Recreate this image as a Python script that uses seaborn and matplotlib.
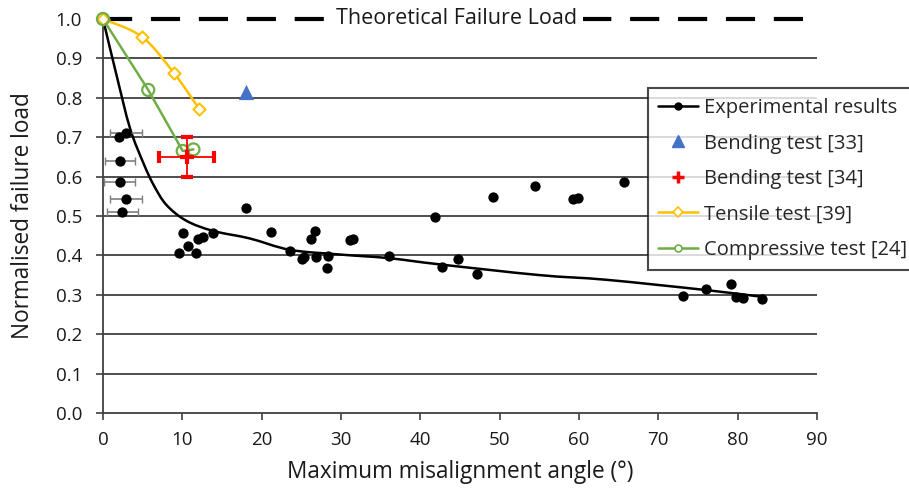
import matplotlib
matplotlib.use("Agg")
import matplotlib.pyplot as plt
from matplotlib.path import Path
from matplotlib.patches import PathPatch
from matplotlib.lines import Line2D
import numpy as np
import pandas as pd
import seaborn as sns

# experimental results (no error bar)
exp_angle = [2.06, 9.6, 10.05, 10.76, 11.7, 12.0, 12.65, 13.9, 18.0, 21.2, 23.6, 25.05,
             25.3, 26.2, 26.7, 26.9, 28.3, 28.2, 31.1, 31.5, 36.1, 41.8, 42.7, 44.7,
             47.1, 49.1, 54.5, 59.2, 59.9, 65.7, 73.05, 76.0, 79.1, 79.8, 80.7, 83.1]
exp_load = [0.700, 0.407, 0.456, 0.424, 0.405, 0.441, 0.446, 0.458, 0.520, 0.460, 0.411, 0.390,
            0.397, 0.441, 0.462, 0.397, 0.398, 0.367, 0.439, 0.441, 0.399, 0.498, 0.371, 0.392,
            0.352, 0.549, 0.577, 0.543, 0.546, 0.586, 0.297, 0.314, 0.327, 0.294, 0.293, 0.290]

# experimental results with horizontal error bars
eb_angle = [2.9, 2.1, 2.1, 2.9, 2.4]
eb_load = [0.711, 0.640, 0.585, 0.542, 0.511]
eb_err = [2.0, 1.9, 1.95, 2.0, 1.95]

# trend line through experimental results
fit_angle = [0, 1.7, 3.4, 5.1, 6.4, 8.0, 10.5, 13.9, 18.5, 23.6, 30.0, 36.0, 42.5, 55.0, 63.5, 76.0, 83.0]
fit_load = [1.0, 0.858, 0.723, 0.634, 0.578, 0.528, 0.488, 0.462, 0.443, 0.414, 0.402, 0.393,
            0.377, 0.350, 0.338, 0.312, 0.295]

# literature
bend33_angle = [18.0]
bend33_load = [0.815]
bend34_angle = [10.55]
bend34_load = [0.65]
bend34_xerr = [3.5]
bend34_yerr = [0.05]
tens_angle = [0, 4.9, 8.9, 12.15]
tens_load = [1.0, 0.955, 0.864, 0.771]
comp_angle = [0, 5.7, 10.05, 11.4]
comp_load = [1.0, 0.82, 0.665, 0.669]

BLACK = "black"
BLUE = "#4472C4"
RED = "#FF0000"
YELLOW = "#FFC000"
GREEN = "#70AD47"
AXIS = "#404040"
TXT = "#1a1a1a"


def smooth_path(xs, ys):
    # excel-like smoothed line (catmull-rom as cubic bezier)
    pts = np.column_stack([xs, ys]).astype(float)
    n = len(pts)
    verts = [pts[0]]
    codes = [Path.MOVETO]
    for i in range(n - 1):
        p0 = pts[max(i - 1, 0)]
        p1 = pts[i]
        p2 = pts[i + 1]
        p3 = pts[min(i + 2, n - 1)]
        c1 = p1 + (p2 - p0) / 6
        c2 = p2 - (p3 - p1) / 6
        verts += [c1, c2, p2]
        codes += [Path.CURVE4] * 3
    return Path(verts, codes)


sns.set_style("white")
plt.rcParams["font.family"] = ["Open Sans", "DejaVu Sans"]

fig = plt.figure(figsize=(9.09, 4.92), dpi=100)
ax = fig.add_axes([0.1133, 0.1606, 0.7855, 0.8008])

ax.set_xlim(0, 90)
ax.set_ylim(0, 1.0)
ax.set_xticks(np.arange(0, 91, 10))
ax.set_yticks(np.arange(0, 1.01, 0.1))
ax.set_yticklabels([f"{v:.1f}" for v in np.arange(0, 1.01, 0.1)])

for yv in np.arange(0.1, 0.95, 0.1):
    ax.axhline(yv, color=AXIS, lw=1.3, zorder=0)

# theoretical failure load
ax.axhline(1.0, color=BLACK, lw=3, ls=(0, (7, 4.5)), zorder=1, clip_on=False)
ax.text(44.6, 1.0, "Theoretical Failure Load", ha="center", va="center", fontsize=15.5,
        color=TXT, bbox=dict(facecolor="white", edgecolor="none", pad=4), zorder=2)

# trend line
ax.add_patch(PathPatch(smooth_path(fit_angle, fit_load), facecolor="none",
                       edgecolor=BLACK, lw=1.8, zorder=3))

# error bars
ax.errorbar(eb_angle, eb_load, xerr=eb_err, fmt="none", ecolor="#7f7f7f",
            elinewidth=1.2, capsize=3, zorder=3)

exp_df = pd.DataFrame({"angle": exp_angle + eb_angle, "load": exp_load + eb_load})
sns.scatterplot(data=exp_df, x="angle", y="load", ax=ax, color=BLACK, s=55,
                edgecolor=BLACK, linewidth=0, zorder=5)

# tensile test
ax.add_patch(PathPatch(smooth_path(tens_angle, tens_load), facecolor="none",
                       edgecolor=YELLOW, lw=1.8, zorder=4, clip_on=False))
sns.scatterplot(x=tens_angle, y=tens_load, ax=ax, marker="D", s=38, facecolor="white",
                edgecolor=YELLOW, linewidth=1.5, zorder=6, clip_on=False)

# compressive test
sns.lineplot(x=comp_angle, y=comp_load, ax=ax, sort=False, color=GREEN, lw=1.8,
             zorder=4, estimator=None)
sns.scatterplot(x=comp_angle, y=comp_load, ax=ax, marker="o", s=75, facecolor="none",
                edgecolor=GREEN, linewidth=1.6, zorder=6, clip_on=False)

# bending tests
sns.scatterplot(x=bend33_angle, y=bend33_load, ax=ax, marker="^", s=120, color=BLUE,
                linewidth=0, zorder=6)
ax.errorbar(bend34_angle, bend34_load, xerr=bend34_xerr, yerr=bend34_yerr, fmt="+",
            color=RED, ms=10, mew=3, elinewidth=1.3, capsize=4, zorder=7)

for side in ["top", "right"]:
    ax.spines[side].set_visible(False)
for side in ["left", "bottom"]:
    ax.spines[side].set_color(AXIS)
    ax.spines[side].set_linewidth(1.3)
ax.tick_params(axis="both", direction="out", length=5, width=1.2, color=AXIS,
               labelcolor=TXT, left=True, bottom=True)
ax.tick_params(axis="x", labelsize=13.5, pad=8)
ax.tick_params(axis="y", labelsize=13.5, pad=10)

ax.set_xlabel("Maximum misalignment angle (°)", fontsize=16.3, color=TXT, labelpad=8)
ax.set_ylabel("Normalised failure load", fontsize=16.3, color=TXT, labelpad=15)

handles = [
    Line2D([], [], color=BLACK, lw=1.8, marker="o", ms=5),
    Line2D([], [], color=BLUE, lw=0, marker="^", ms=9),
    Line2D([], [], color=RED, lw=0, marker="+", ms=9, mew=2.5),
    Line2D([], [], color=YELLOW, lw=1.8, marker="D", ms=5, mfc="white", mew=1.2),
    Line2D([], [], color=GREEN, lw=1.8, marker="o", ms=5, mfc="white", mew=1.2),
]
labels = ["Experimental results", "Bending test [33]", "Bending test [34]",
          "Tensile test [39]", "Compressive test [24]"]
leg = ax.legend(handles, labels, loc="upper left", bbox_to_anchor=(0.763, 0.825),
                borderaxespad=0, frameon=True, fancybox=False, fontsize=14.5,
                handlelength=2.0, labelspacing=0.77, borderpad=0.5, handletextpad=0.3)
leg.get_frame().set_edgecolor(TXT)
leg.get_frame().set_linewidth(1.5)
leg.set_zorder(10)

plt.savefig("out.png", dpi=100)
